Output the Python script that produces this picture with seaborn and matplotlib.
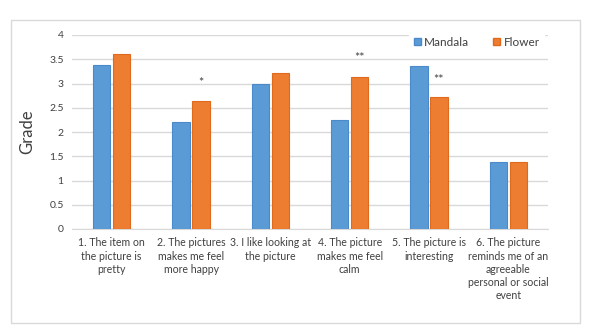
import matplotlib
matplotlib.use("Agg")
import matplotlib.pyplot as plt
import matplotlib.patches as mpatches
import seaborn as sns
import pandas as pd

categories = [
    "1. The item on\nthe picture is\npretty",
    "2. The pictures\nmakes me feel\nmore happy",
    "3. I like looking at\nthe picture",
    "4. The picture\nmakes me feel\ncalm",
    "5. The picture is\ninteresting",
    "6. The picture\nreminds me of an\nagreeable\npersonal or social\nevent",
]
mandala = [3.38, 2.20, 2.99, 2.25, 3.36, 1.38]
flower = [3.60, 2.64, 3.22, 3.13, 2.72, 1.39]
series_names = ["Mandala", "Flower"]
sig_marks = ["", "*", "", "**", "**", ""]
sig_heights = [None, 3.02, None, 3.52, 3.08, None]
yticks = [0, 0.5, 1, 1.5, 2, 2.5, 3, 3.5, 4]
ytick_labels = ["0", "0.5", "1", "1.5", "2", "2.5", "3", "3.5", "4"]

df = pd.DataFrame({
    "cat": categories * 2,
    "series": [series_names[0]] * len(categories) + [series_names[1]] * len(categories),
    "value": mandala + flower,
})

sns.set_style("white")
plt.rcParams["font.family"] = ["Lato", "DejaVu Sans"]

colors = {"Mandala": "#5B9BD5", "Flower": "#ED7D31"}
edges = {"Mandala": "#4A8ACB", "Flower": "#E06A1B"}

fig = plt.figure(figsize=(6, 3.33), dpi=100)
# outer border
fig.patches.append(mpatches.Rectangle((11 / 600, 1 - 323 / 333), 569 / 600, 303 / 333,
                                      transform=fig.transFigure, fill=False,
                                      edgecolor="#d9d9d9", linewidth=1.0))
ax = fig.add_axes([72 / 600, 1 - 229 / 333, 476 / 600, 194 / 333])

sns.barplot(data=df, x="cat", y="value", hue="series", palette=colors,
            width=0.5, gap=0.12, saturation=1, ax=ax, legend=False, zorder=3)
for patch, name in zip(ax.patches, ["Mandala"] * 6 + ["Flower"] * 6):
    patch.set_edgecolor(edges[name])
    patch.set_linewidth(0.8)

ax.set_ylim(0, 4)
ax.set_yticks(yticks)
ax.set_yticklabels(ytick_labels, fontsize=7.5, color="#404040")
ax.tick_params(axis="both", length=0, pad=6)
ax.set_xticks(range(len(categories)))
ax.set_xticklabels(categories, fontsize=7.6, color="#404040", linespacing=1.25, va="top")
ax.tick_params(axis="x", pad=6)
ax.set_xlabel("")
ax.set_ylabel("Grade", fontsize=12, color="#404040", labelpad=10)
ax.set_xlim(-0.5, len(categories) - 0.5)
ax.yaxis.grid(True, color="#d9d9d9", linewidth=1.0, zorder=0)
ax.set_axisbelow(True)
for s in ["top", "right", "left"]:
    ax.spines[s].set_visible(False)
ax.spines["bottom"].set_color("#d9d9d9")

for i, (m, h) in enumerate(zip(sig_marks, sig_heights)):
    if m:
        ax.text(i + 0.125, h, m, ha="center", va="center", fontsize=9, color="#404040")

handles = [mpatches.Patch(facecolor=colors[n], edgecolor=edges[n], label=n) for n in series_names]
leg = ax.legend(handles=handles, loc="upper right", bbox_to_anchor=(1.005, 1.045), ncol=2,
                frameon=True, fontsize=8.5, handlelength=0.6, handleheight=0.6,
                handletextpad=0.3, columnspacing=2.0, borderpad=0.4)
leg.get_frame().set_facecolor("white")
leg.get_frame().set_edgecolor("white")
leg.get_frame().set_alpha(1)
for t in leg.get_texts():
    t.set_color("#404040")

fig.savefig("out.png", dpi=100)
